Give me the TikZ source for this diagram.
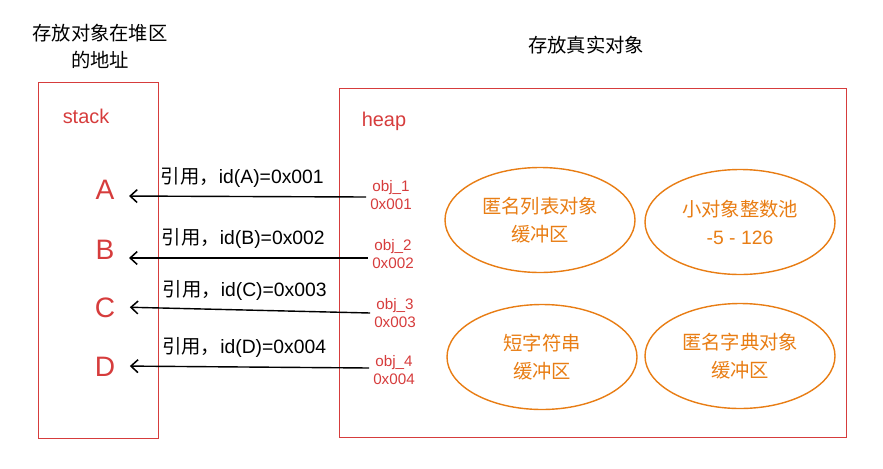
\documentclass[tikz,border=0pt]{standalone}
\usepackage{fontspec}
\setmainfont{Liberation Sans}
\newfontfamily\cjk{Noto Sans CJK SC}
\usepackage{tikz}
\usetikzlibrary{shapes.geometric}
\usetikzlibrary{arrows.meta}
\usepackage{xcolor}
\definecolor{boxred}{RGB}{214,60,60}
\definecolor{pool}{RGB}{232,125,20}

\begin{document}
\begin{tikzpicture}[x=0.03cm, y=-0.03cm,
    area/.style={rectangle, draw=boxred, line width=0.6pt, anchor=north west},
    title/.style={align=center, font=\cjk\fontsize{16.5}{23}\selectfont},
    varname/.style={text=boxred, font=\fontsize{24}{28}\selectfont},
    objaddr/.style={text=boxred, align=center, font=\fontsize{13}{15}\selectfont},
    refer/.style={{Straight Barb[length=6pt, width=11pt, line width=1.3pt]}-, line width=1.2pt, shorten <=9pt},
    reflabel/.style={font=\fontsize{16.5}{18}\selectfont},
    pool/.style={ellipse, draw=pool, line width=1.2pt, text=pool, align=center,
        minimum width=190*0.03cm, minimum height=105*0.03cm, font=\cjk\fontsize{16.5}{24}\selectfont}
]
    \useasboundingbox (0,0) rectangle (883,468);

    % Titles
    \node[title] (stacktitle) at (100,46) {存放对象在堆区\\的地址};
    \node[title] (heaptitle) at (586,45) {存放真实对象};

    % Stack and heap areas
    \node[area, minimum width=120*0.03cm, minimum height=356*0.03cm] (stack) at (38,82) {};
    \node[area, minimum width=507*0.03cm, minimum height=349*0.03cm] (heap) at (339,88) {};
    \node[text=boxred, font=\fontsize{17}{19}\selectfont] (stacklabel) at (86,116) {stack};
    \node[text=boxred, font=\fontsize{17}{19}\selectfont] (heaplabel) at (384,121) {heap};

    % Variables on the stack
    \node[varname] (A) at (105,190) {A};
    \node[varname] (B) at (105,250) {B};
    \node[varname] (C) at (105,308) {C};
    \node[varname] (D) at (105,367) {D};

    % Objects in the heap
    \node[objaddr] (obj1) at (391,195) {obj\_1\\0x001};
    \node[objaddr] (obj2) at (393,254) {obj\_2\\0x002};
    \node[objaddr] (obj3) at (395,313) {obj\_3\\0x003};
    \node[objaddr] (obj4) at (394,370) {obj\_4\\0x004};

    % References
    \draw[refer] (A.east |- 0,196) -- node[reflabel, above=4pt] {{\cjk 引用，}id(A)=0x001} (obj1.west |- 0,197);
    \draw[refer] (B.east |- 0,258) -- node[reflabel, above=4pt] {{\cjk 引用，}id(B)=0x002} (obj2.west |- 0,258);
    \draw[refer] (C.east |- 0,307) -- node[reflabel, above=4pt] {{\cjk 引用，}id(C)=0x003} (obj3.west |- 0,313);
    \draw[refer] (D.east |- 0,366) -- node[reflabel, above=4pt] {{\cjk 引用，}id(D)=0x004} (obj4.west |- 0,368);

    % Buffer pools
    \node[pool] (listpool) at (540,220) {匿名列表对象\\缓冲区};
    \node[pool] (intpool) at (740,222) {小对象整数池\\{\fontspec{Liberation Sans}-5 - 126}};
    \node[pool] (strpool) at (542,357) {短字符串\\缓冲区};
    \node[pool] (dictpool) at (740,356) {匿名字典对象\\缓冲区};
\end{tikzpicture}
\end{document}
